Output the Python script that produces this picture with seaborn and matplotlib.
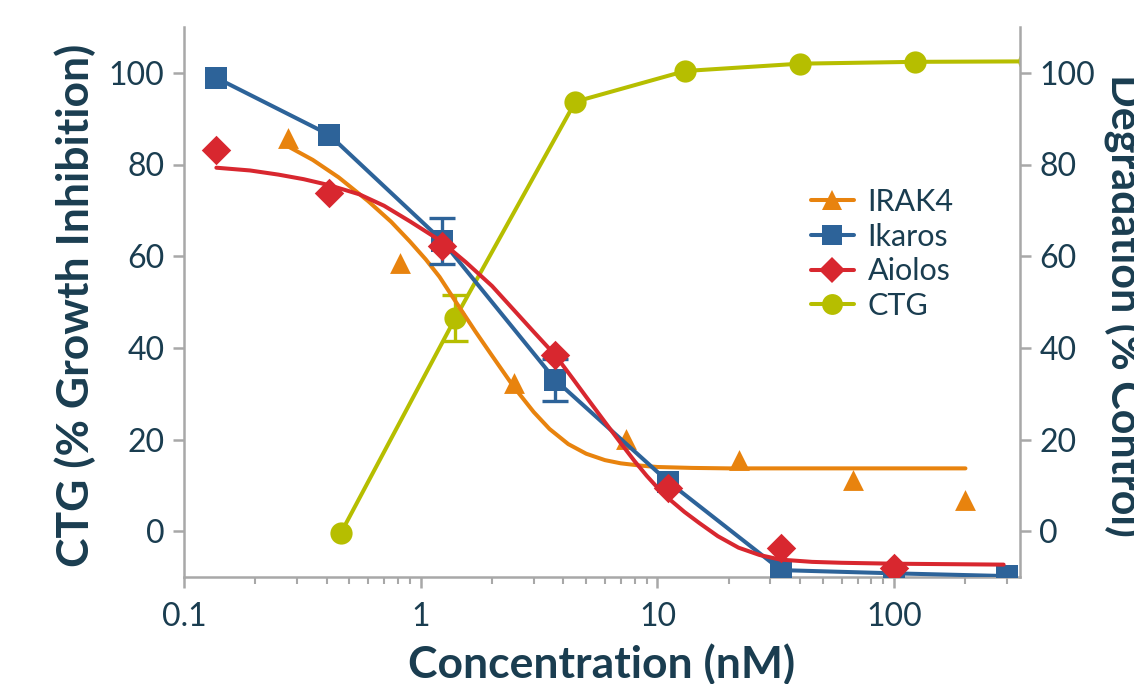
import matplotlib.pyplot as plt
import seaborn as sns
import numpy as np
from matplotlib.lines import Line2D
from matplotlib.ticker import FuncFormatter

# data
irak4Conc = [0.274, 0.82, 2.47, 7.4, 22.2, 66.7, 200]
irak4Values = [85.8, 58.5, 32.4, 20.2, 15.5, 11.1, 6.8]
irak4FitConc = [0.274, 0.35, 0.45, 0.6, 0.75, 0.9, 1.05, 1.2, 1.4, 1.7, 2.0, 2.47, 3.0, 3.5,
                4.2, 5.0, 6.0, 7.0, 8.5, 10, 14, 20, 200]
irak4FitValues = [84.0, 81.0, 77.2, 72.0, 67.5, 63.2, 59.3, 55.5, 50.2, 43.6, 38.3, 31.5, 26.0,
                  22.3, 19.0, 16.9, 15.5, 14.8, 14.3, 14.0, 13.8, 13.7, 13.7]

ikarosConc = [0.137, 0.41, 1.23, 3.7, 11.1, 33.3, 100, 300]
ikarosValues = [98.9, 86.5, 63.4, 33.0, 10.8, -8.5, -9.2, -9.8]
ikarosErrors = [0, 0, 5.0, 4.6, 0, 0, 0, 0]

aiolosConc = [0.137, 0.41, 1.23, 3.7, 11.1, 33.3, 100]
aiolosValues = [83.2, 73.8, 62.3, 38.4, 9.5, -3.7, -8.1]
aiolosFitConc = [0.137, 0.19, 0.25, 0.32, 0.41, 0.55, 0.7, 0.9, 1.2, 1.55, 2.0, 2.5, 3.0, 3.7,
                 4.4, 5.0, 6.0, 7.0, 8.0, 9.0, 10.0, 11.1, 13, 15, 18, 22, 27, 33, 45, 60,
                 100, 290]
aiolosFitValues = [79.3, 78.7, 77.8, 76.8, 75.5, 73.5, 71.0, 67.6, 63.5, 58.7, 53.5, 48.0, 43.5,
                   38.4, 33.2, 29.3, 23.8, 19.2, 15.3, 12.1, 9.5, 7.2, 4.2, 1.8, -1.1, -3.6,
                   -5.2, -6.2, -6.7, -6.9, -7.1, -7.3]

ctgConc = [0.46, 1.4, 4.5, 13.1, 40, 123, 370]
ctgValues = [-0.4, 46.5, 93.7, 100.4, 102.0, 102.4, 102.5]
ctgErrors = [0, 5.0, 0, 0, 0, 0, 0]

seriesNames = ["IRAK4", "Ikaros", "Aiolos", "CTG"]
tickValues = [0, 20, 40, 60, 80, 100]

orange = "#E8830E"
blue = "#2D6399"
red = "#D8272F"
olive = "#B6BE00"
textColor = "#1A3D50"
spineColor = "#A8A8A8"

sns.set_style("ticks")
plt.rcParams["font.family"] = ["Lato", "DejaVu Sans"]

fig = plt.figure(figsize=(11.34, 6.84), dpi=100)
ax = fig.add_axes([184 / 1134, 1 - 577 / 684, 836 / 1134, 550 / 684])
ax2 = ax.twinx()

lineWidth = 2.9

# CTG: connected points
sns.lineplot(x=ctgConc, y=ctgValues, ax=ax, color=olive, linewidth=lineWidth,
             marker="o", markersize=16, markeredgewidth=0, sort=False, zorder=2)
ctgErrIdx = [i for i, e in enumerate(ctgErrors) if e > 0]
ax.errorbar([ctgConc[i] for i in ctgErrIdx], [ctgValues[i] for i in ctgErrIdx],
            yerr=[ctgErrors[i] for i in ctgErrIdx], fmt="none", ecolor=olive,
            elinewidth=2.4, capsize=9.5, capthick=2.4, zorder=2)

# IRAK4: fit curve + points
sns.lineplot(x=irak4FitConc, y=irak4FitValues, ax=ax, color=orange,
             linewidth=lineWidth, sort=False, zorder=3)
sns.scatterplot(x=irak4Conc, y=irak4Values, ax=ax, color=orange, marker="^",
                s=15 ** 2, linewidth=0, zorder=3)

# Ikaros: connected points
sns.lineplot(x=ikarosConc, y=ikarosValues, ax=ax, color=blue, linewidth=lineWidth,
             marker="s", markersize=16, markeredgewidth=0, sort=False, zorder=4)
ikErrIdx = [i for i, e in enumerate(ikarosErrors) if e > 0]
ax.errorbar([ikarosConc[i] for i in ikErrIdx], [ikarosValues[i] for i in ikErrIdx],
            yerr=[ikarosErrors[i] for i in ikErrIdx], fmt="none", ecolor=blue,
            elinewidth=2.4, capsize=9.5, capthick=2.4, zorder=4)

# Aiolos: fit curve + points
sns.lineplot(x=aiolosFitConc, y=aiolosFitValues, ax=ax, color=red,
             linewidth=lineWidth, sort=False, zorder=5)
sns.scatterplot(x=aiolosConc, y=aiolosValues, ax=ax, color=red, marker="D",
                s=15 ** 2, linewidth=0, zorder=5)

ax.set_xscale("log")
ax.set_xlim(0.1, 340)
ax.set_ylim(-10, 110)
ax2.set_ylim(-10, 110)
ax.set_yticks(tickValues)
ax2.set_yticks(tickValues)
ax.xaxis.set_major_formatter(FuncFormatter(lambda v, p: f"{v:g}"))

for a in (ax, ax2):
    for side in a.spines:
        a.spines[side].set_color(spineColor)
        a.spines[side].set_linewidth(1.8)
    a.spines["top"].set_visible(False)
    a.tick_params(which="major", length=8, width=1.8, color=spineColor,
                  labelcolor=textColor, labelsize=23)
    a.tick_params(which="minor", length=5, width=1.5, color=spineColor)
    a.set_xlabel("")
    a.set_ylabel("")
ax.spines["right"].set_visible(False)
ax2.spines["left"].set_visible(False)
ax2.spines["bottom"].set_visible(False)
ax.tick_params(axis="x", which="major", pad=10)
ax.tick_params(axis="y", pad=6)
ax2.tick_params(axis="y", pad=6)

handles = [
    Line2D([], [], color=orange, marker="^", markersize=14, linewidth=lineWidth, markeredgewidth=0),
    Line2D([], [], color=blue, marker="s", markersize=15, linewidth=lineWidth, markeredgewidth=0),
    Line2D([], [], color=red, marker="D", markersize=13.5, linewidth=lineWidth, markeredgewidth=0),
    Line2D([], [], color=olive, marker="o", markersize=15, linewidth=lineWidth, markeredgewidth=0),
]
leg = ax.legend(handles, seriesNames, loc="upper left",
                bbox_to_anchor=((811 - 184) / 836, (577 - 188) / 550),
                frameon=False, fontsize=22, handlelength=1.4, handletextpad=0.45,
                labelspacing=0.22, borderpad=0, borderaxespad=0)
for t in leg.get_texts():
    t.set_color(textColor)

fig.text(75 / 1134, 1 - 305 / 684, "CTG (% Growth Inhibition)", rotation=90,
         ha="center", va="center", fontsize=32, fontweight="bold", color=textColor)
fig.text(1124 / 1134, 1 - 305 / 684, "Degradation (% Control)", rotation=270,
         ha="center", va="center", fontsize=31, fontweight="bold", color=textColor)
fig.text(602 / 1134, 1 - 643 / 684, "Concentration (nM)", ha="center", va="top",
         fontsize=32, fontweight="bold", color=textColor)

fig.savefig("out.png", dpi=100)
plt.close(fig)
